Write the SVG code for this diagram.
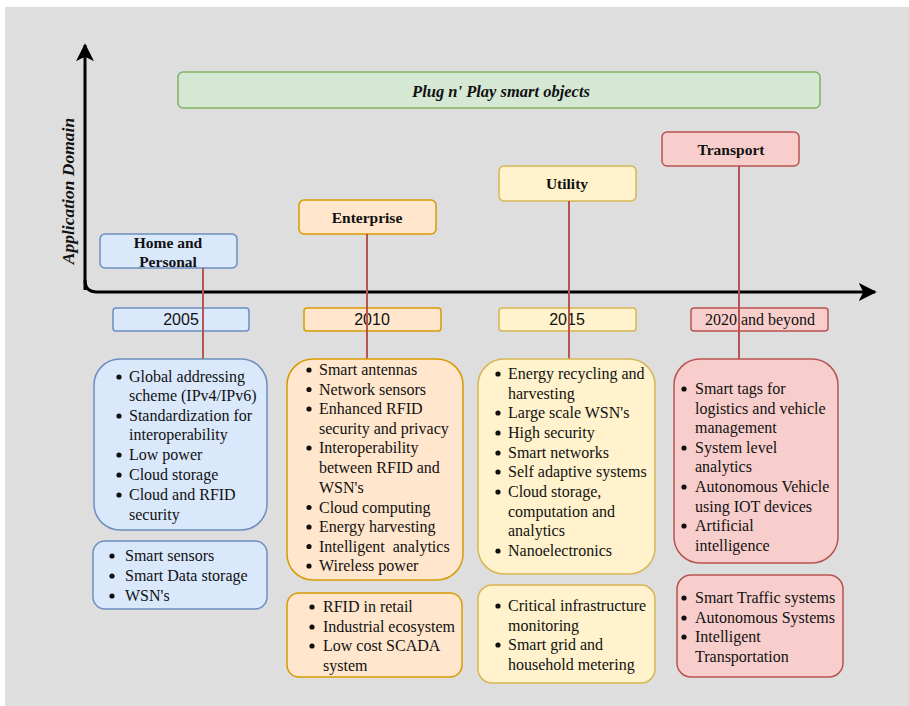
<svg xmlns="http://www.w3.org/2000/svg" width="909" height="706" viewBox="0 0 909 706">
  <defs>
    <style>
      .bg { fill: #dedede; }
      .axis { fill: none; stroke: #000; stroke-width: 3; }
      .link { stroke: #b85450; stroke-width: 2; fill: none; }
      .blue { fill: #dae8fc; stroke: #6c8ebf; stroke-width: 1.5; }
      .orange { fill: #ffe6cc; stroke: #d79b00; stroke-width: 1.5; }
      .yellow { fill: #fff2cc; stroke: #d6b656; stroke-width: 1.5; }
      .red { fill: #f8cecc; stroke: #b85450; stroke-width: 1.5; }
      .green { fill: #d5e8d4; stroke: #82b366; stroke-width: 1.5; }
      .head { font-family: "Liberation Serif", "Times New Roman", serif; font-weight: bold; font-size: 15.5px; fill: #111; text-anchor: middle; }
      .year { font-family: "Liberation Sans", Arial, sans-serif; font-size: 16px; fill: #111; text-anchor: middle; }
      .yearS { font-family: "Liberation Serif", "Times New Roman", serif; font-size: 16px; fill: #111; text-anchor: middle; }
      .item { font-family: "Liberation Serif", "Times New Roman", serif; font-size: 16px; fill: #111; }
      .bul { fill: #111; }
      .title { font-family: "Liberation Serif", "Times New Roman", serif; font-weight: bold; font-style: italic; font-size: 16.5px; fill: #111; text-anchor: middle; }
      .label { font-family: "Liberation Serif", "Times New Roman", serif; font-weight: bold; font-style: italic; font-size: 17.5px; fill: #111; text-anchor: middle; }
    </style>
    <marker id="arrow" viewBox="0 0 10 10" refX="9" refY="5" markerWidth="6" markerHeight="6" markerUnits="strokeWidth" orient="auto">
      <path d="M0,0 L10,5 L0,10 L2.5,5 Z" fill="#000"/>
    </marker>
  </defs>

  <rect class="bg" x="5" y="7" width="904" height="699"/>

  <!-- axes -->
  <g id="axes">
    <path class="axis" d="M85,290 L85,45" marker-end="url(#arrow)"/>
    <path class="axis" d="M85,280 Q85,292 97,292 L875,292" marker-end="url(#arrow)"/>
    <text class="label" transform="translate(74,191) rotate(-90)">Application Domain</text>
  </g>

  <!-- banner -->
  <g id="plug-n-play">
    <rect class="green" x="178" y="72" width="642" height="36" rx="5"/>
    <text class="title" x="501" y="97">Plug n' Play smart objects</text>
  </g>

  <!-- domain headers -->
  <g id="home">
    <rect class="blue" x="100" y="234" width="137" height="34" rx="5"/>
    <text class="head" x="168" y="248">Home and</text>
    <text class="head" x="168" y="267">Personal</text>
  </g>
  <g id="enterprise">
    <rect class="orange" x="299" y="200" width="137" height="34" rx="5"/>
    <text class="head" x="367" y="223">Enterprise</text>
  </g>
  <g id="utility">
    <rect class="yellow" x="499" y="166" width="137" height="35" rx="5"/>
    <text class="head" x="567" y="189">Utility</text>
  </g>
  <g id="transport">
    <rect class="red" x="662" y="132" width="137" height="34" rx="5"/>
    <text class="head" x="731" y="155">Transport</text>
  </g>

  <!-- years -->
  <g id="y2005">
    <rect class="blue" x="113" y="308" width="136" height="23" rx="3"/>
    <text class="year" x="181" y="325">2005</text>
  </g>
  <g id="y2010">
    <rect class="orange" x="304" y="308" width="137" height="23" rx="3"/>
    <text class="year" x="372" y="325">2010</text>
  </g>
  <g id="y2015">
    <rect class="yellow" x="499" y="308" width="137" height="23" rx="3"/>
    <text class="year" x="567" y="325">2015</text>
  </g>
  <g id="y2020">
    <rect class="red" x="691" y="308" width="137" height="23" rx="3"/>
    <text class="yearS" x="760" y="325">2020 and beyond</text>
  </g>

  <!-- connectors -->
  <g id="connectors">
    <line class="link" x1="203" y1="268" x2="203" y2="359"/>
    <line class="link" x1="367" y1="234" x2="367" y2="359"/>
    <line class="link" x1="569" y1="201" x2="569" y2="359"/>
    <line class="link" x1="739" y1="166" x2="739" y2="359"/>
  </g>

  <!-- 2005 lists -->
  <g id="home-tech">
    <rect class="blue" x="94" y="359" width="173" height="171" rx="26"/>
    <circle class="bul" cx="119" cy="377" r="2.6"/>
    <circle class="bul" cx="119" cy="416" r="2.6"/>
    <circle class="bul" cx="119" cy="455" r="2.6"/>
    <circle class="bul" cx="119" cy="475" r="2.6"/>
    <circle class="bul" cx="119" cy="495" r="2.6"/>
    <text class="item" x="129" y="382">Global addressing</text>
    <text class="item" x="129" y="401">scheme (IPv4/IPv6)</text>
    <text class="item" x="129" y="421">Standardization for</text>
    <text class="item" x="129" y="440">interoperability</text>
    <text class="item" x="129" y="460">Low power</text>
    <text class="item" x="129" y="480">Cloud storage</text>
    <text class="item" x="129" y="500">Cloud and RFID</text>
    <text class="item" x="129" y="520">security</text>
  </g>
  <g id="home-apps">
    <rect class="blue" x="93" y="541" width="174" height="68" rx="12"/>
    <circle class="bul" cx="112" cy="556" r="2.6"/>
    <circle class="bul" cx="112" cy="576" r="2.6"/>
    <circle class="bul" cx="112" cy="596" r="2.6"/>
    <text class="item" x="125" y="561">Smart sensors</text>
    <text class="item" x="125" y="581">Smart Data storage</text>
    <text class="item" x="125" y="601">WSN's</text>
  </g>

  <!-- 2010 lists -->
  <g id="enterprise-tech">
    <rect class="orange" x="287" y="359" width="176" height="221" rx="26"/>
    <circle class="bul" cx="309" cy="370" r="2.6"/>
    <circle class="bul" cx="309" cy="389.5" r="2.6"/>
    <circle class="bul" cx="309" cy="409" r="2.6"/>
    <circle class="bul" cx="309" cy="448" r="2.6"/>
    <circle class="bul" cx="309" cy="507.5" r="2.6"/>
    <circle class="bul" cx="309" cy="527" r="2.6"/>
    <circle class="bul" cx="309" cy="546.5" r="2.6"/>
    <circle class="bul" cx="309" cy="566" r="2.6"/>
    <text class="item" x="319" y="375">Smart antennas</text>
    <text class="item" x="319" y="394.5">Network sensors</text>
    <text class="item" x="319" y="414">Enhanced RFID</text>
    <text class="item" x="319" y="433.5">security and privacy</text>
    <text class="item" x="319" y="453">Interoperability</text>
    <text class="item" x="319" y="473">between RFID and</text>
    <text class="item" x="319" y="492.5">WSN's</text>
    <text class="item" x="319" y="512.5">Cloud computing</text>
    <text class="item" x="319" y="532">Energy harvesting</text>
    <text class="item" x="319" y="551.5" xml:space="preserve">Intelligent  analytics</text>
    <text class="item" x="319" y="571">Wireless power</text>
  </g>
  <g id="enterprise-apps">
    <rect class="orange" x="287" y="593" width="175" height="84" rx="12"/>
    <circle class="bul" cx="312" cy="607" r="2.6"/>
    <circle class="bul" cx="312" cy="627" r="2.6"/>
    <circle class="bul" cx="312" cy="646" r="2.6"/>
    <text class="item" x="323" y="612">RFID in retail</text>
    <text class="item" x="323" y="632">Industrial ecosystem</text>
    <text class="item" x="323" y="651">Low cost SCADA</text>
    <text class="item" x="323" y="671">system</text>
  </g>

  <!-- 2015 lists -->
  <g id="utility-tech">
    <rect class="yellow" x="478" y="359" width="177" height="215" rx="26"/>
    <circle class="bul" cx="498" cy="374" r="2.6"/>
    <circle class="bul" cx="498" cy="413" r="2.6"/>
    <circle class="bul" cx="498" cy="433" r="2.6"/>
    <circle class="bul" cx="498" cy="453" r="2.6"/>
    <circle class="bul" cx="498" cy="472" r="2.6"/>
    <circle class="bul" cx="498" cy="492" r="2.6"/>
    <circle class="bul" cx="498" cy="551" r="2.6"/>
    <text class="item" x="508" y="379">Energy recycling and</text>
    <text class="item" x="508" y="399">harvesting</text>
    <text class="item" x="508" y="418">Large scale WSN's</text>
    <text class="item" x="508" y="438">High security</text>
    <text class="item" x="508" y="458">Smart networks</text>
    <text class="item" x="508" y="477">Self adaptive systems</text>
    <text class="item" x="508" y="497">Cloud storage,</text>
    <text class="item" x="508" y="517">computation and</text>
    <text class="item" x="508" y="536">analytics</text>
    <text class="item" x="508" y="556">Nanoelectronics</text>
  </g>
  <g id="utility-apps">
    <rect class="yellow" x="478" y="585" width="177" height="98" rx="14"/>
    <circle class="bul" cx="498" cy="606" r="2.6"/>
    <circle class="bul" cx="498" cy="645" r="2.6"/>
    <text class="item" x="508" y="611">Critical infrastructure</text>
    <text class="item" x="508" y="631">monitoring</text>
    <text class="item" x="508" y="650">Smart grid and</text>
    <text class="item" x="508" y="670">household metering</text>
  </g>

  <!-- 2020 lists -->
  <g id="transport-tech">
    <rect class="red" x="674" y="359" width="164" height="204" rx="26"/>
    <circle class="bul" cx="684" cy="389" r="2.6"/>
    <circle class="bul" cx="684" cy="448" r="2.6"/>
    <circle class="bul" cx="684" cy="487" r="2.6"/>
    <circle class="bul" cx="684" cy="526" r="2.6"/>
    <text class="item" x="695" y="394">Smart tags for</text>
    <text class="item" x="695" y="414">logistics and vehicle</text>
    <text class="item" x="695" y="433">management</text>
    <text class="item" x="695" y="453">System level</text>
    <text class="item" x="695" y="472">analytics</text>
    <text class="item" x="695" y="492">Autonomous Vehicle</text>
    <text class="item" x="695" y="512">using IOT devices</text>
    <text class="item" x="695" y="531">Artificial</text>
    <text class="item" x="695" y="551">intelligence</text>
  </g>
  <g id="transport-apps">
    <rect class="red" x="677" y="575" width="166" height="102" rx="14"/>
    <circle class="bul" cx="684" cy="598" r="2.6"/>
    <circle class="bul" cx="684" cy="618" r="2.6"/>
    <circle class="bul" cx="684" cy="637" r="2.6"/>
    <text class="item" x="695" y="603">Smart Traffic systems</text>
    <text class="item" x="695" y="623">Autonomous Systems</text>
    <text class="item" x="695" y="642">Intelligent</text>
    <text class="item" x="695" y="662">Transportation</text>
  </g>
</svg>
